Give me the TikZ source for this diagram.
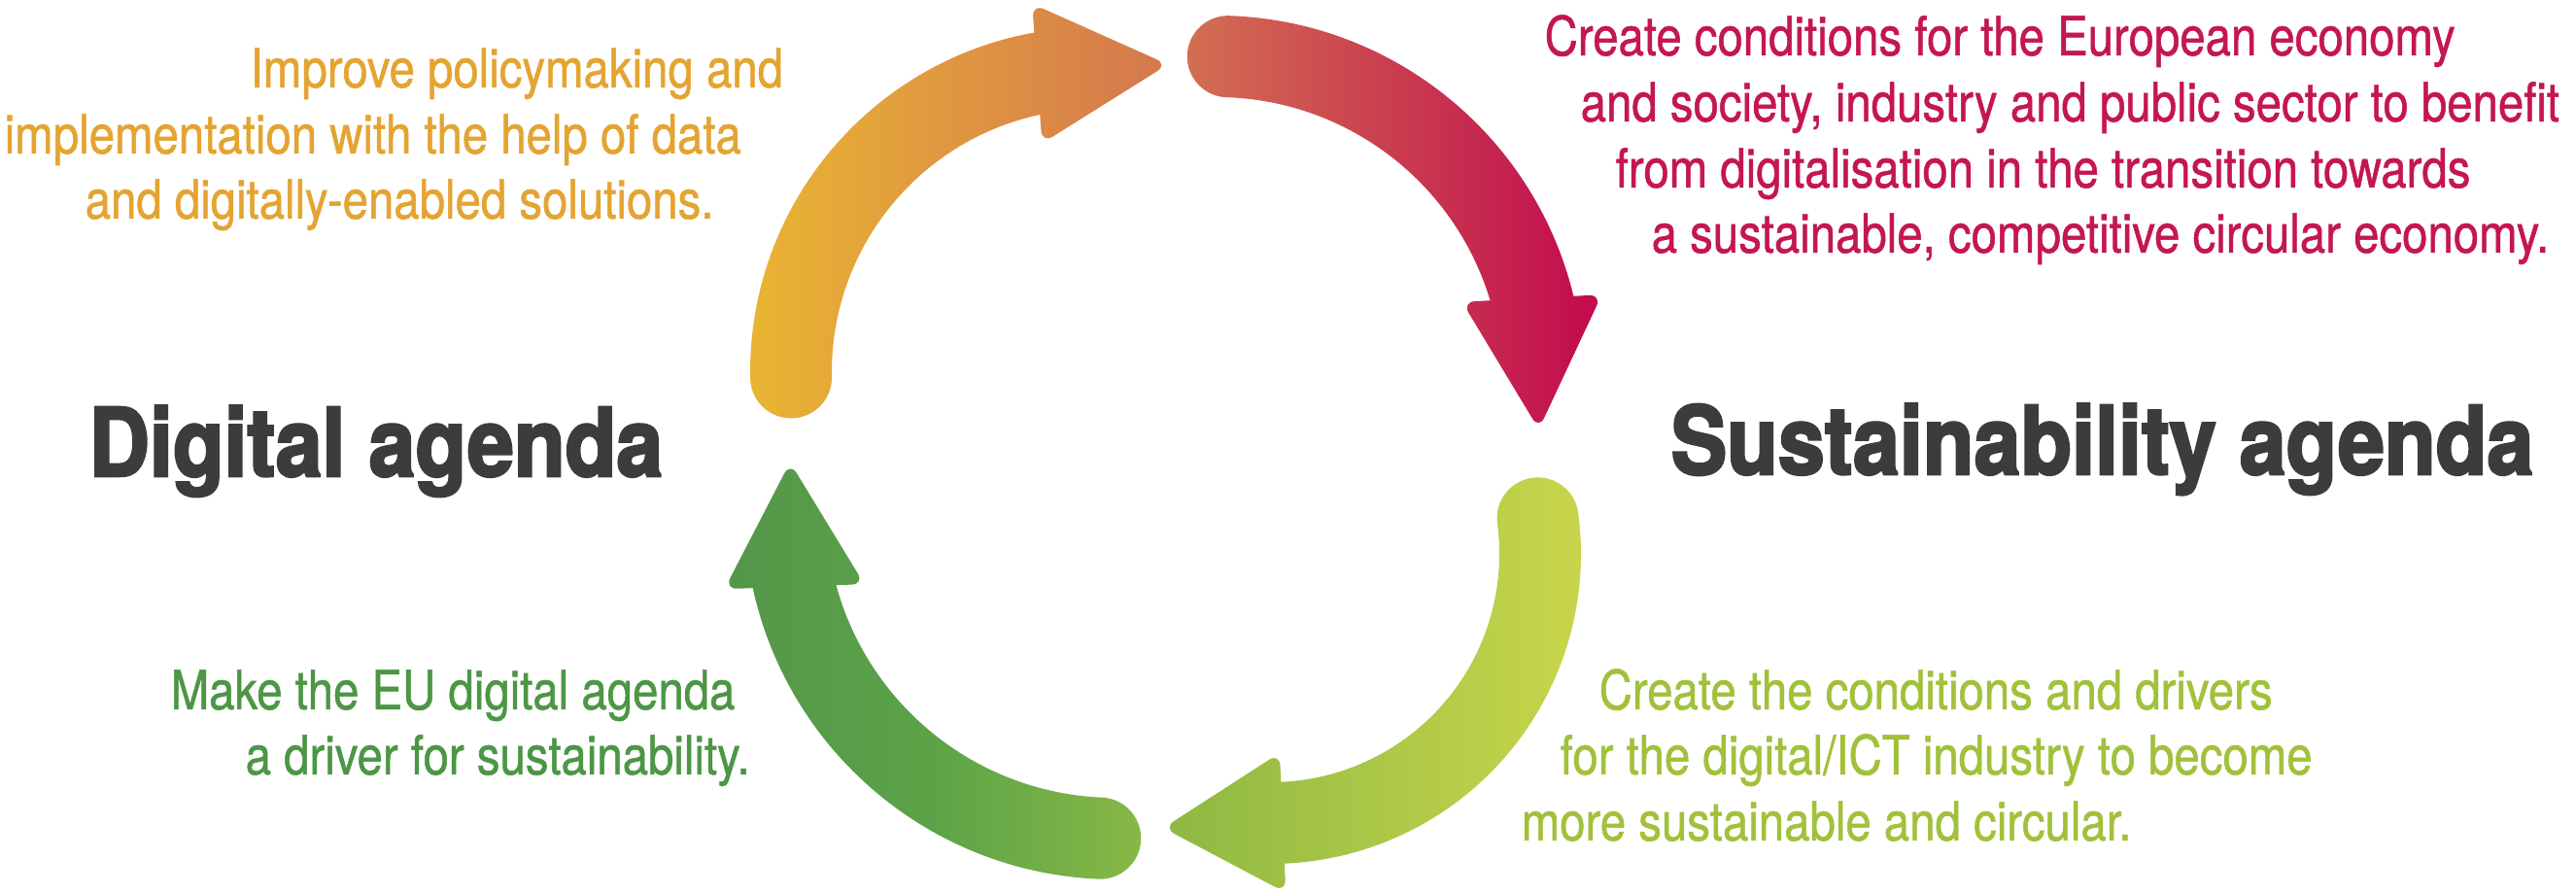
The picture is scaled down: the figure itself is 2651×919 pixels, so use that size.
\documentclass[tikz,border=0pt]{standalone}
\usepackage{fontspec}
\setmainfont{TeX Gyre Heros}[FakeStretch=0.85,FakeBold=0.9]
\newfontfamily\headfont{TeX Gyre Heros}[FakeStretch=0.885,BoldFeatures={FakeBold=2.6}]
\usetikzlibrary{calc}

\definecolor{txtorange}{HTML}{E4A432}
\definecolor{txtred}{HTML}{C4174F}
\definecolor{txtlime}{HTML}{A1C13A}
\definecolor{txtgreen}{HTML}{4C9645}
\definecolor{headgray}{HTML}{3C3C3C}
\definecolor{orA}{HTML}{E9B532}
\definecolor{orB}{HTML}{D5774F}
\definecolor{rdA}{HTML}{D36F51}
\definecolor{rdB}{HTML}{C10A4E}
\definecolor{ylA}{HTML}{8DB843}
\definecolor{ylB}{HTML}{CAD64B}
\definecolor{gnA}{HTML}{54964A}
\definecolor{gnM}{HTML}{5CA347}
\definecolor{gnB}{HTML}{88B846}

% #1,#2 centre; #3 mid radius; #4 tail angle; #5 head-base angle; #6 head direction; #7 head length; #8 shading
\newcommand{\ringarrow}[8]{%
  \pgfmathsetmacro\Ro{#3+42}%
  \pgfmathsetmacro\Ri{#3-42}%
  \pgfmathsetmacro\Ae{#5-6}%
  \pgfmathsetmacro\Ac{#4+180}%
  \pgfmathsetmacro\Dl{#6+90}%
  \pgfmathsetmacro\Dr{#6-90}%
  \shade[#8]
    ($(#1,#2)+(#4:\Ro)$) arc[start angle=#4,end angle=\Ae,radius=\Ro]
    -- ($(#1,#2)+(\Ae:\Ri)$) arc[start angle=\Ae,end angle=#4,radius=\Ri]
    arc[start angle=\Ac,end angle=#4,radius=42] -- cycle
    [rounded corners=0.13cm]
    ($(#1,#2)+(#5:#3)+(\Dl:72)$) -- ($(#1,#2)+(#5:#3)+(#6:#7)$) -- ($(#1,#2)+(#5:#3)+(\Dr:72)$) -- cycle;
}

\begin{document}
\begin{tikzpicture}[x=0.01cm,y=0.01cm,
  bodytxt/.style={anchor=base west,inner sep=0pt,font=\fontsize{15.85}{19}\selectfont},
  headtxt/.style={anchor=base west,inner sep=0pt,text=headgray,font=\headfont\bfseries\fontsize{27.7}{30}\selectfont}]
\fill[white] (0,0) rectangle (2651,919);
\useasboundingbox (0,0) rectangle (2651,919);

\ringarrow{1127}{536}{313}{181}{101}{4}{135}{left color=orA,right color=orB}
\ringarrow{1252}{525}{336}{88}{15}{-87}{135}{left color=rdA,right color=rdB}
\ringarrow{1308}{349}{277}{7.6}{-87.5}{182.5}{123}{left color=ylA,right color=ylB}
\ringarrow{1147}{395}{339}{267.5}{193.6}{92}{128}{left color=gnA,right color=gnB,middle color=gnM}

\node[headtxt] (dig) at (91,429) {Digital agenda};
\node[headtxt] (sus) at (1719,431) {Sustainability agenda};

\node[bodytxt,text=txtorange] (o1) at (257,829) {Improve policymaking and};
\node[bodytxt,text=txtorange] (o2) at (4,761) {implementation with the help of data};
\node[bodytxt,text=txtorange] (o3) at (87,694) {and digitally-enabled solutions.};

\node[bodytxt,text=txtred] (r1) at (1589,862) {Create conditions for the European economy};
\node[bodytxt,text=txtred] (r2) at (1626,794) {and society, industry and public sector to benefit};
\node[bodytxt,text=txtred] (r3) at (1662,726) {from digitalisation in the transition towards};
\node[bodytxt,text=txtred] (r4) at (1699,659) {a sustainable, competitive circular economy.};

\node[bodytxt,text=txtgreen] (g1) at (175,189) {Make the EU digital agenda};
\node[bodytxt,text=txtgreen] (g2) at (252,122) {a driver for sustainability.};

\node[bodytxt,text=txtlime] (l1) at (1645,189) {Create the conditions and drivers};
\node[bodytxt,text=txtlime] (l2) at (1605,122) {for the digital/ICT industry to become};
\node[bodytxt,text=txtlime] (l3) at (1565,54) {more sustainable and circular.};
\end{tikzpicture}
\end{document}
